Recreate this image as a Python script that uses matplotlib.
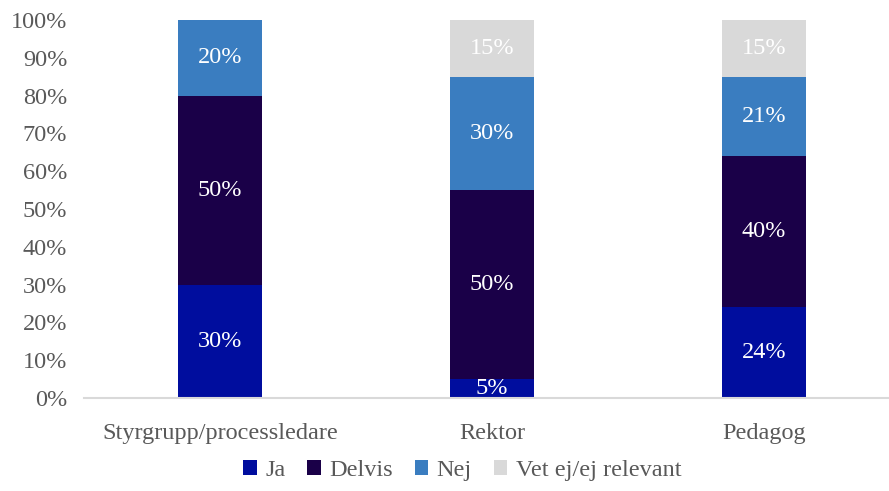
import matplotlib.pyplot as plt
import numpy as np

# Data
categories = ['Styrgrupp/processledare', 'Rektor', 'Pedagog']
series_names = ['Ja', 'Delvis', 'Nej', 'Vet ej/ej relevant']
ja = [30, 5, 24]
delvis = [50, 50, 40]
nej = [20, 30, 21]
vet_ej = [0, 15, 15]
colors = ['#000d9e', '#1a0048', '#3a7dc0', '#d9d9d9']

plt.rcParams['font.family'] = ['Liberation Serif', 'DejaVu Serif']

fig = plt.figure(figsize=(8.89, 4.91), dpi=100)
ax = fig.add_axes([84 / 889, 93 / 491, 816 / 889, 378 / 491])

x = np.arange(len(categories))
bottom = np.zeros(len(categories))
for name, vals, col in zip(series_names, [ja, delvis, nej, vet_ej], colors):
    vals = np.array(vals, dtype=float)
    ax.bar(x, vals, 0.31, bottom=bottom, color=col, label=name)
    for xi, v, b in zip(x, vals, bottom):
        if v > 0:
            ax.text(xi, b + v / 2, f'{v:.0f}%', ha='center', va='center',
                    color='white', fontsize=17.5)
    bottom += vals

ax.set_xlim(-0.5, 2.5)
ax.set_ylim(0, 100)
ax.set_yticks(np.arange(0, 101, 10))
ax.set_yticklabels([f'{t}%' for t in range(0, 101, 10)])
ax.set_xticks(x)
ax.set_xticklabels(categories)
ax.tick_params(axis='both', length=0, labelsize=17.5, labelcolor='#595959')
ax.tick_params(axis='x', pad=18)
ax.tick_params(axis='y', pad=12)
for s in ['top', 'right', 'left']:
    ax.spines[s].set_visible(False)
ax.spines['bottom'].set_color('#d9d9d9')
ax.spines['bottom'].set_linewidth(1.5)

leg = fig.legend(loc='center', bbox_to_anchor=(0.52, 0.042), ncol=4, frameon=False,
                 fontsize=17.5, handlelength=0.55, handleheight=0.55, handletextpad=0.35,
                 columnspacing=0.9)
for t in leg.get_texts():
    t.set_color('#595959')

fig.savefig('out.png', dpi=100)
